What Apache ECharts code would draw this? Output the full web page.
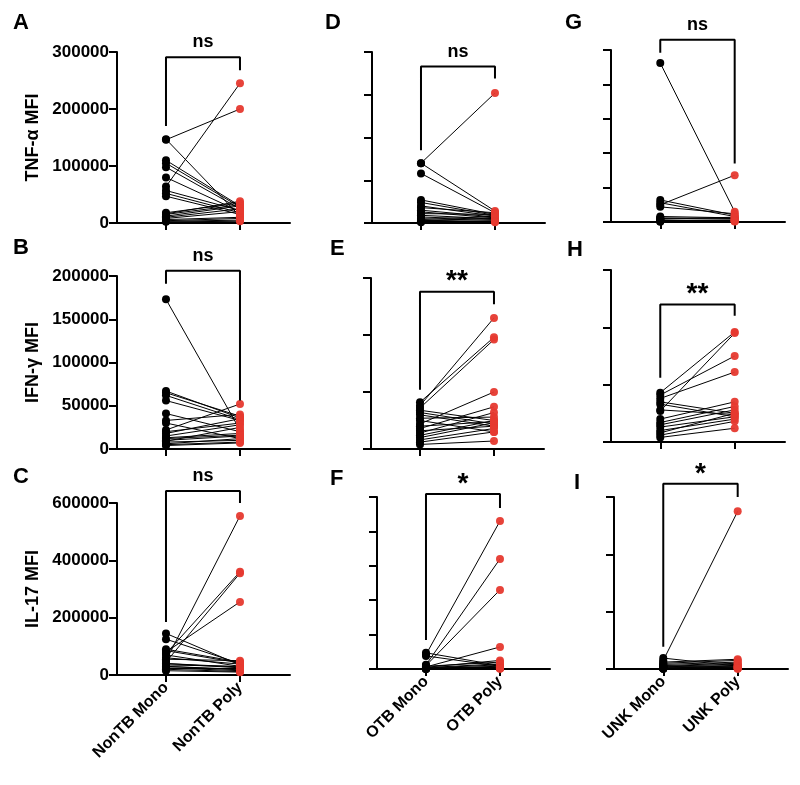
<!DOCTYPE html>
<html>
<head>
<meta charset="utf-8">
<script src="https://cdn.jsdelivr.net/npm/echarts@6/dist/echarts.min.js"></script>
<style>
html,body{margin:0;padding:0;background:#fff;}
#chart{width:800px;height:785px;}
</style>
</head>
<body>
<div id="chart"></div>
<script>
// ---- category labels ----
const nonTBLabels = ['NonTB Mono', 'NonTB Poly'];
const otbLabels = ['OTB Mono', 'OTB Poly'];
const unkLabels = ['UNK Mono', 'UNK Poly'];
const panelLetters = ['A', 'B', 'C', 'D', 'E', 'F', 'G', 'H', 'I'];
const yAxisTitles = ['TNF-α MFI', 'IFN-γ MFI', 'IL-17 MFI'];
const sigLabels = ['ns', 'ns', 'ns', 'ns', '**', '*', 'ns', '**', '*'];

// ---- y axis ranges [max, interval] ----
const yMaxA = 300000, yStepA = 100000;
const yMaxB = 200000, yStepB = 50000;
const yMaxC = 600000, yStepC = 200000;
const yMaxD = 200000, yStepD = 50000;
const yMaxE = 150000, yStepE = 50000;
const yMaxF = 500000, yStepF = 100000;
const yMaxG = 250000, yStepG = 50000;
const yMaxH = 150000, yStepH = 50000;
const yMaxI = 300000, yStepI = 100000;

// ---- paired values (Mono / Poly) ----
const tnfNonTBMono = [146000, 147000, 110000, 105000, 98000, 80000, 64000, 57000, 52000, 47000, 18000, 16000, 15000, 12000, 10000, 8000, 6000, 4000, 3000, 2000];
const tnfNonTBPoly = [200000, 12000, 30000, 28000, 25000, 20000, 245000, 22000, 18000, 15000, 35000, 38000, 32000, 30000, 25000, 20000, 10000, 8000, 5000, 3000];
const ifnNonTBMono = [173000, 67000, 65000, 62000, 56000, 41000, 33000, 30000, 22000, 20000, 18000, 15000, 13000, 10000, 8000, 6000, 5000, 4000, 12000, 9000];
const ifnNonTBPoly = [22000, 36000, 38000, 34000, 33000, 20000, 40000, 12000, 52000, 30000, 35000, 28000, 18000, 15000, 10000, 12000, 8000, 7000, 16000, 25000];
const il17NonTBMono = [145000, 125000, 90000, 80000, 75000, 70000, 55000, 50000, 45000, 40000, 35000, 30000, 25000, 20000, 15000, 40000, 60000, 85000, 30000, 22000];
const il17NonTBPoly = [35000, 40000, 45000, 255000, 360000, 30000, 50000, 555000, 355000, 25000, 30000, 20000, 15000, 12000, 10000, 28000, 38000, 42000, 18000, 22000];

const tnfOTBMono = [70000, 70000, 58000, 27000, 24000, 20000, 18000, 15000, 13000, 11000, 9000, 7000, 5000, 4000, 3000, 2000, 1500, 1000];
const tnfOTBPoly = [152000, 14000, 12000, 10000, 9000, 8000, 12000, 7000, 6000, 10000, 5000, 4000, 3000, 8000, 2000, 6000, 1500, 1000];
const ifnOTBMono = [41000, 38000, 36000, 34000, 32000, 30000, 27000, 25000, 22000, 20000, 18000, 16000, 14000, 12000, 10000, 8000, 6000, 4000];
const ifnOTBPoly = [98000, 115000, 96000, 25000, 22000, 20000, 28000, 15000, 50000, 24000, 37000, 20000, 32000, 25000, 23000, 18000, 15000, 7000];
const il17OTBMono = [42000, 12000, 10000, 6000, 47000, 38000, 8000, 5000, 4000, 3000, 2000, 1500, 1000, 800, 600, 500, 400, 300];
const il17OTBPoly = [430000, 320000, 230000, 64000, 10000, 8000, 20000, 25000, 15000, 12000, 8000, 6000, 5000, 4000, 3000, 2000, 1500, 1000];

const tnfUNKMono = [231000, 25000, 32000, 28000, 22000, 8000, 6000, 5000, 4000, 3000, 2500, 2000, 1500, 1000, 500];
const tnfUNKPoly = [15000, 68000, 10000, 8000, 12000, 6000, 5000, 4000, 7000, 3000, 2000, 2500, 1500, 1000, 800];
const ifnUNKMono = [43000, 27000, 41000, 38000, 35000, 33000, 28000, 20000, 17000, 15000, 13000, 10000, 8000, 6000, 4000];
const ifnUNKPoly = [96000, 95000, 75000, 61000, 25000, 22000, 24000, 35000, 31000, 28000, 22000, 20000, 25000, 18000, 12000];
const il17UNKMono = [15000, 19000, 12000, 10000, 8000, 6000, 5000, 4000, 3000, 2000, 1500, 1000, 800, 500, 300];
const il17UNKPoly = [275000, 5000, 17000, 15000, 12000, 10000, 8000, 6000, 5000, 4000, 3000, 2000, 1500, 1000, 500];

// ---- significance brackets [leftBottom, top, rightBottom] in data units ----
const bracketA = [170000, 291000, 268000];
const bracketB = [191000, 206000, 56000];
const bracketC = [185000, 642000, 600000];
const bracketD = [85000, 183000, 169000];
const bracketE = [52000, 138000, 127000];
const bracketF = [84000, 509000, 468000];
const bracketG = [246000, 265000, 85000];
const bracketH = [56000, 120000, 110000];
const bracketI = [39000, 323000, 300000];

// ---------------------------------------------------------
const FONT = 'Liberation Sans, Arial, Helvetica, sans-serif';
const RED = '#E6392F';

const panels = [
  {mono: tnfNonTBMono, poly: tnfNonTBPoly, max: yMaxA, step: yStepA, br: bracketA, labels: nonTBLabels, grid: [117, 52, 173, 171], yLab: true, xLab: false, title: yAxisTitles[0]},
  {mono: ifnNonTBMono, poly: ifnNonTBPoly, max: yMaxB, step: yStepB, br: bracketB, labels: nonTBLabels, grid: [117, 276, 173, 173], yLab: true, xLab: false, title: yAxisTitles[1]},
  {mono: il17NonTBMono, poly: il17NonTBPoly, max: yMaxC, step: yStepC, br: bracketC, labels: nonTBLabels, grid: [117, 503, 173, 172], yLab: true, xLab: true, title: yAxisTitles[2]},
  {mono: tnfOTBMono, poly: tnfOTBPoly, max: yMaxD, step: yStepD, br: bracketD, labels: otbLabels, grid: [372, 52, 173, 171], yLab: false, xLab: false},
  {mono: ifnOTBMono, poly: ifnOTBPoly, max: yMaxE, step: yStepE, br: bracketE, labels: otbLabels, grid: [371, 278, 173, 171], yLab: false, xLab: false},
  {mono: il17OTBMono, poly: il17OTBPoly, max: yMaxF, step: yStepF, br: bracketF, labels: otbLabels, grid: [377, 497, 173, 172], yLab: false, xLab: true},
  {mono: tnfUNKMono, poly: tnfUNKPoly, max: yMaxG, step: yStepG, br: bracketG, labels: unkLabels, grid: [611, 50, 174, 172], yLab: false, xLab: false},
  {mono: ifnUNKMono, poly: ifnUNKPoly, max: yMaxH, step: yStepH, br: bracketH, labels: unkLabels, grid: [611, 270, 174, 172], yLab: false, xLab: false},
  {mono: il17UNKMono, poly: il17UNKPoly, max: yMaxI, step: yStepI, br: bracketI, labels: unkLabels, grid: [614, 497, 174, 172], yLab: false, xLab: true}
];

const letterPos = [[13, 12], [13, 237], [13, 466], [325, 12], [330, 238], [330, 468], [565, 12], [567, 239], [574, 472]];

const grids = [], xAxes = [], yAxes = [], series = [], graphics = [];

panels.forEach((p, i) => {
  grids.push({left: p.grid[0], top: p.grid[1], width: p.grid[2], height: p.grid[3], containLabel: false});
  xAxes.push({
    type: 'value', gridIndex: i, min: 0.338, max: 2.676,
    splitLine: {show: false},
    axisLine: {show: true, onZero: false, lineStyle: {color: '#000', width: 2}},
    axisTick: {show: true, customValues: [1, 2], length: 7, lineStyle: {color: '#000', width: 2}},
    axisLabel: {
      show: p.xLab, customValues: [1, 2], rotate: 45, margin: 10,
      color: '#000', fontFamily: FONT, fontWeight: 'bold', fontSize: 16,
      formatter: v => (Math.abs(v - 1) < 1e-6 ? p.labels[0] : p.labels[1])
    }
  });
  yAxes.push({
    type: 'value', gridIndex: i, min: 0, max: p.max, interval: p.step,
    splitLine: {show: false},
    axisLine: {show: true, lineStyle: {color: '#000', width: 2}},
    axisTick: {show: true, length: 8, lineStyle: {color: '#000', width: 2}},
    axisLabel: {show: p.yLab, color: '#000', fontFamily: FONT, fontWeight: 'bold', fontSize: 17, margin: 8,
      formatter: v => String(v)},
    name: p.title || '', nameLocation: 'middle', nameGap: 75, nameRotate: 90,
    nameTextStyle: {color: '#000', fontFamily: FONT, fontWeight: 'bold', fontSize: 18}
  });
  // connecting lines
  series.push({
    type: 'lines', coordinateSystem: 'cartesian2d', xAxisIndex: i, yAxisIndex: i,
    silent: true, z: 2,
    lineStyle: {color: '#000', width: 1, opacity: 1},
    data: p.mono.map((m, k) => ({coords: [[1, m], [2, p.poly[k]]]}))
  });
  // mono points
  series.push({
    type: 'scatter', xAxisIndex: i, yAxisIndex: i, symbolSize: 8, z: 3,
    itemStyle: {color: '#000', opacity: 1},
    data: p.mono.map(m => [1, m])
  });
  // poly points
  series.push({
    type: 'scatter', xAxisIndex: i, yAxisIndex: i, symbolSize: 8, z: 3,
    itemStyle: {color: RED, opacity: 0.95},
    data: p.poly.map(v => [2, v])
  });
  // bracket
  series.push({
    type: 'line', xAxisIndex: i, yAxisIndex: i, clip: false, symbol: 'none', z: 4,
    lineStyle: {color: '#000', width: 2}, silent: true,
    data: [[1, p.br[0]], [1, p.br[1]], [2, p.br[1]], [2, p.br[2]]]
  });
  // significance text
  const isStar = sigLabels[i].indexOf('*') >= 0;
  series.push({
    type: 'scatter', xAxisIndex: i, yAxisIndex: i, clip: false, symbolSize: 0, z: 5, silent: true,
    itemStyle: {color: '#000', opacity: 1},
    label: {
      show: true, position: 'top', distance: isStar ? -4 : 6, opacity: 1,
      formatter: sigLabels[i], color: '#000', fontFamily: FONT, fontWeight: 'bold',
      fontSize: isStar ? 28 : 18, textBorderWidth: 0
    },
    data: [[1.5, p.br[1]]]
  });
  graphics.push({
    type: 'text', left: letterPos[i][0], top: letterPos[i][1],
    style: {text: panelLetters[i], fill: '#000', font: 'bold 22px ' + FONT}
  });
});

const chart = echarts.init(document.getElementById('chart'), null, {renderer: 'canvas'});
chart.setOption({
  backgroundColor: '#fff',
  animation: false,
  grid: grids,
  xAxis: xAxes,
  yAxis: yAxes,
  series: series,
  graphic: graphics
});
</script>
</body>
</html>
